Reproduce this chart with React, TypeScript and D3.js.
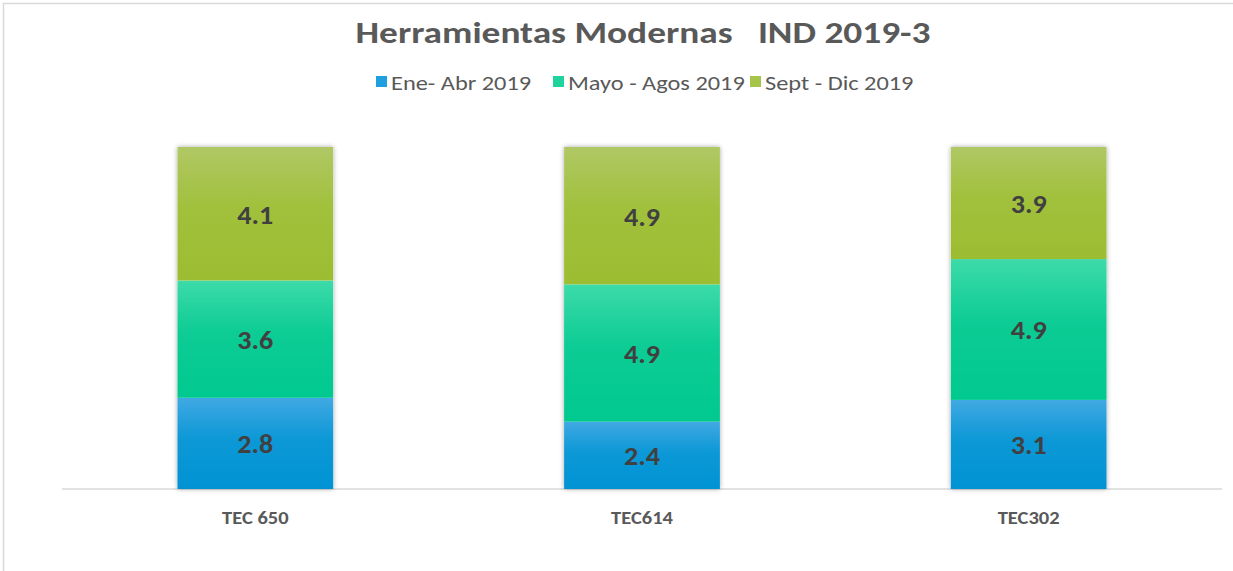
import React from "react";
import * as d3 from "d3";

const categories = ["TEC 650", "TEC614", "TEC302"];
const seriesNames = ["Ene- Abr 2019", "Mayo - Agos 2019", "Sept - Dic 2019"];
const eneAbr = [2.8, 2.4, 3.1];
const mayoAgos = [3.6, 4.9, 4.9];
const septDic = [4.1, 4.9, 3.9];
const seriesValues = [eneAbr, mayoAgos, septDic];
const gradTop = ["#41a9e3", "#3ddba9", "#b0c865"];
const gradBot = ["#0093d4", "#00c98f", "#9cbd32"];
const legendColors = ["#1f9fe0", "#1ed39c", "#a6c34a"];

const W = 1233, H = 571;
const font = "Carlito, Calibri, Lato, 'Open Sans', sans-serif";

function SText(props: { x: number; y: number; sx: number; anchor?: string; size: number; bold?: boolean; fill: string; children: any }) {
  return (
    <g transform={`translate(${props.x},${props.y}) scale(${props.sx},1)`}>
      <text x={0} y={0} textAnchor={props.anchor || "start"} fontFamily={font} fontWeight={props.bold ? "bold" : "normal"} fontSize={props.size} fill={props.fill} style={{ whiteSpace: "pre" }}>
        {props.children}
      </text>
    </g>
  );
}

export default function App() {
  const x = d3.scaleBand<string>().domain(categories).range([62, 1222]).paddingInner(0.597).paddingOuter(0.2985);
  const y = d3.scaleLinear().domain([0, 1]).range([489, 147]);
  const rows = categories.map((c, i) => {
    const o: any = { cat: c };
    seriesNames.forEach((s, j) => (o[s] = seriesValues[j][i]));
    return o;
  });
  const stack = d3.stack<any>().keys(seriesNames).offset(d3.stackOffsetExpand);
  const layers = stack(rows);
  const legendX = [376, 553, 750];
  return (
    <svg width={W} height={H} style={{ position: "absolute", left: 0, top: 0, background: "#fff" }}>
      <defs>
        {gradTop.map((t, i) => (
          <linearGradient key={i} id={`g${i}`} x1="0" y1="0" x2="0" y2="1">
            <stop offset="0" stopColor={t} />
            <stop offset="0.45" stopColor={gradBot[i]} stopOpacity={0.95} />
            <stop offset="1" stopColor={gradBot[i]} />
          </linearGradient>
        ))}
        <filter id="sh" x="-10%" y="-10%" width="120%" height="120%">
          <feGaussianBlur in="SourceAlpha" stdDeviation="2.5" />
          <feComponentTransfer><feFuncA type="linear" slope="0.35" /></feComponentTransfer>
          <feMerge><feMergeNode /><feMergeNode in="SourceGraphic" /></feMerge>
        </filter>
      </defs>
      <rect x={3.5} y={3.5} width={W} height={H} fill="#fff" stroke="#d9d9d9" strokeWidth={1.5} />
      <SText x={643} y={43} sx={1.245} anchor="middle" size={30} bold fill="#595959">
        {"Herramientas Modernas   IND 2019-3"}
      </SText>
      {seriesNames.map((s, i) => (
        <g key={s}>
          <rect x={legendX[i]} y={76} width={11} height={11} fill={legendColors[i]} />
          <SText x={legendX[i] + 15} y={90} sx={1.25} size={19.5} fill="#595959">{s}</SText>
        </g>
      ))}
      <line x1={62} x2={1222} y1={489} y2={489} stroke="#d9d9d9" strokeWidth={1.5} />
      {categories.map((c) => (
        <rect key={c} x={x(c)} y={y(1)} width={x.bandwidth()} height={y(0) - y(1)} fill="#fff" filter="url(#sh)" />
      ))}
      {layers.map((layer, j) => (
        <g key={j}>
          {layer.map((d, i) => (
            <g key={i}>
              <rect x={x(categories[i])} y={y(d[1])} width={x.bandwidth()} height={y(d[0]) - y(d[1])} fill={`url(#g${j})`} />
              <SText x={(x(categories[i]) as number) + x.bandwidth() / 2} y={(y(d[0]) + y(d[1])) / 2 + 10} sx={1.08} anchor="middle" size={26} bold fill="#404040">
                {seriesValues[j][i].toFixed(1)}
              </SText>
            </g>
          ))}
        </g>
      ))}
      {categories.map((c) => (
        <SText key={c} x={(x(c) as number) + x.bandwidth() / 2} y={524} sx={1.08} anchor="middle" size={19} bold fill="#595959">{c}</SText>
      ))}
    </svg>
  );
}
